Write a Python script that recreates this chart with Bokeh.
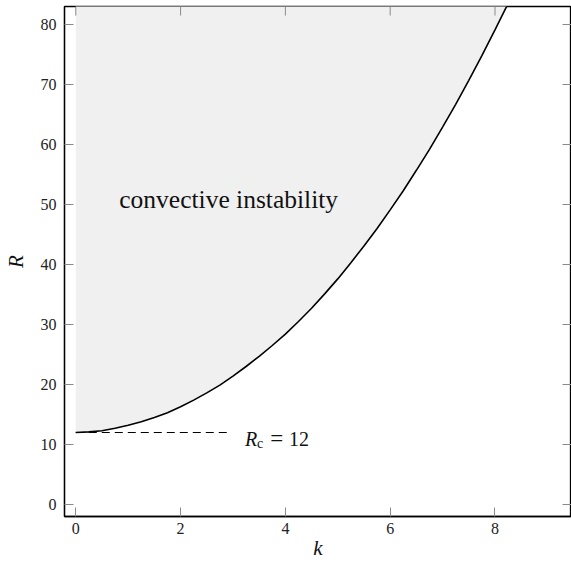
from bokeh.plotting import figure
from bokeh.models import Label, FixedTicker, Range1d
from bokeh.embed import file_html
from bokeh.resources import INLINE

# Curve: marginal stability R(k)
k_vals = [0.0, 0.25, 0.5, 0.75, 1.0, 1.25, 1.5, 1.75, 2.0, 2.25, 2.5, 2.75, 3.0, 3.25, 3.5, 3.75,
          4.0, 4.25, 4.5, 4.75, 5.0, 5.25, 5.5, 5.75, 6.0, 6.25, 6.5, 6.75, 7.0, 7.25, 7.5, 7.75,
          8.0, 8.25]
R_vals = [12.0, 12.1, 12.3, 12.7, 13.2, 13.8, 14.5, 15.3, 16.3, 17.4, 18.6, 19.9, 21.4, 23.0, 24.7, 26.5,
          28.4, 30.5, 32.7, 35.1, 37.6, 40.3, 43.1, 46.0, 49.1, 52.3, 55.7, 59.2, 62.9, 66.7, 70.7, 74.8,
          79.1, 83.5]
R_top = 84.0
Rc = 12.0
k_dash = [0.0, 2.93]
x_ticks = [0, 2, 4, 6, 8]
y_ticks = [0, 10, 20, 30, 40, 50, 60, 70, 80]

FONT = "Liberation Serif"
X0, X1 = -0.215, 9.46
Y0, Y1 = -2.0, 83.0
TICK_COLOR = "#8a8a8a"

p = figure(width=571, height=562, output_backend="svg", toolbar_location=None,
           x_range=Range1d(X0, X1), y_range=Range1d(Y0, Y1),
           min_border_left=63, min_border_right=0, min_border_top=6, min_border_bottom=44,
           background_fill_color="white", border_fill_color="white",
           x_axis_label="k", y_axis_label="R")
p.grid.visible = False
p.outline_line_color = "black"
p.outline_line_width = 1.3

for ax, ticks in ((p.xaxis[0], x_ticks), (p.yaxis[0], y_ticks)):
    ax.ticker = FixedTicker(ticks=ticks)
    ax.axis_line_color = "black"
    ax.axis_line_width = 1.3
    ax.major_tick_in = 9
    ax.major_tick_out = 0
    ax.major_tick_line_color = TICK_COLOR
    ax.major_tick_line_width = 1
    ax.minor_tick_line_color = None
    ax.major_label_text_font = FONT
    ax.major_label_text_font_size = "16px"
    ax.major_label_text_color = "#222222"
    ax.axis_label_text_font = FONT
    ax.axis_label_text_font_size = "21px"
    ax.axis_label_text_font_style = "italic"
    ax.axis_label_text_color = "#111111"
p.xaxis.major_label_standoff = 6
p.xaxis.axis_label_standoff = -1
p.yaxis.major_label_standoff = 8
p.yaxis.axis_label_standoff = 10

# shaded instability region
p.varea(x=k_vals, y1=R_vals, y2=[R_top] * len(k_vals), fill_color="#f0f0f0")
# critical value dashed line
p.line(x=k_dash, y=[Rc, Rc], line_color="black", line_width=1.2, line_dash="8 5")
# marginal curve
p.line(x=k_vals, y=R_vals, line_color="black", line_width=1.6)

# inward ticks on top and right sides (mirroring the bottom/left ticks)
tick_dy = 9 * (Y1 - Y0) / 510.0
tick_dx = 9 * (X1 - X0) / 508.0
p.segment(x0=x_ticks, y0=[Y1] * len(x_ticks), x1=x_ticks, y1=[Y1 - tick_dy] * len(x_ticks),
          line_color=TICK_COLOR, line_width=1)
p.segment(x0=[X1] * len(y_ticks), y0=y_ticks, x1=[X1 - tick_dx] * len(y_ticks), y1=y_ticks,
          line_color=TICK_COLOR, line_width=1)

def lab(x, y, text, size, style="normal"):
    p.add_layout(Label(x=x, y=y, text=text, text_font=FONT, text_font_size=size,
                       text_font_style=style, text_align="left", text_baseline="alphabetic",
                       text_color="#111111"))

lab(0.83, 50.8, "convective instability", "25.5px")
lab(3.23, 11.0, "R", "20px", style="italic")
lab(3.46, 10.17, "c", "14px")
lab(3.71, 11.0, "=", "23px")
lab(4.07, 11.0, "12", "20px")

open("out.html", "w").write(file_html(p, INLINE))
